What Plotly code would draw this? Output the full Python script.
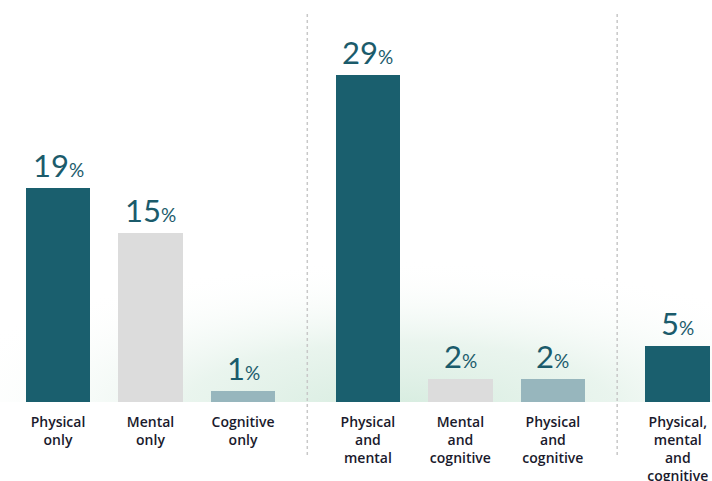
import base64
import plotly.graph_objects as go

# Share of respondents by type of condition
categories = [
    "Physical<br>only", "Mental<br>only", "Cognitive<br>only",
    "Physical<br>and<br>mental", "Mental<br>and<br>cognitive", "Physical<br>and<br>cognitive",
    "Physical,<br>mental<br>and<br>cognitive",
]
values = [19, 15, 1, 29, 2, 2, 5]
groups = [0, 0, 0, 1, 1, 1, 2]

DARK = "#1a5f6e"
GREY = "#dcdcdc"
PALE = "#97b6bd"
colors = [DARK, GREY, PALE, DARK, GREY, PALE, DARK]

GROUP_GAP = 0.35
xpos = [i + g * GROUP_GAP for i, g in enumerate(groups)]
YMAX = 35.65

# soft green glow, drawn as an SVG background image under the bars
glow_svg = """<svg xmlns='http://www.w3.org/2000/svg' width='712' height='402' viewBox='0 0 712 402'>
<defs><radialGradient id='g' cx='0.5' cy='0.5' r='0.5'>
<stop offset='0' stop-color='#d6ecdf' stop-opacity='1'/>
<stop offset='0.45' stop-color='#e2f1e8' stop-opacity='0.75'/>
<stop offset='1' stop-color='#ffffff' stop-opacity='0'/>
</radialGradient></defs>
<ellipse cx='400' cy='410' rx='480' ry='150' fill='url(#g)'/>
</svg>"""
glow_src = "data:image/svg+xml;base64," + base64.b64encode(glow_svg.encode()).decode()

fig = go.Figure()

fig.add_trace(go.Bar(
    x=xpos, y=values, width=0.70,
    marker=dict(color=colors, line=dict(width=0)),
    hoverinfo="skip", showlegend=False,
))

for x, v in zip(xpos, values):
    fig.add_annotation(
        x=x, y=v, xref="x", yref="y",
        text=f"{v}<span style='font-size:19px'>%</span>",
        showarrow=False, yanchor="bottom", yshift=2,
        font=dict(family="Lato", size=31, color="#1b5b6b"),
    )

# dotted separators between groups
for g in range(1, 3):
    left = max(x for x, gg in zip(xpos, groups) if gg == g - 1)
    right = min(x for x, gg in zip(xpos, groups) if gg == g)
    xm = (left + right) / 2 + 0.02
    fig.add_shape(
        type="line", xref="x", yref="paper", x0=xm, x1=xm, y0=-0.132, y1=0.97,
        line=dict(color="#c8c8c8", width=1.5, dash="dot"),
    )

fig.add_layout_image(
    source=glow_src, xref="paper", yref="paper", x=0, y=1,
    sizex=1, sizey=1, sizing="stretch", xanchor="left", yanchor="top",
    layer="below",
)

fig.update_xaxes(
    range=[-0.627, 7.07], tickvals=xpos, ticktext=categories,
    showgrid=False, zeroline=False, showline=False, automargin=False,
    ticks="outside", ticklen=7, tickcolor="rgba(0,0,0,0)",
    tickfont=dict(family="Open Sans", size=14, color="#1a1a2c", weight=600),
)
fig.update_yaxes(range=[0, YMAX], visible=False, showgrid=False, zeroline=False)

fig.update_layout(
    width=712, height=481,
    margin=dict(l=0, r=0, t=0, b=79),
    plot_bgcolor="rgba(0,0,0,0)", paper_bgcolor="white",
    bargap=0,
)

fig.write_html("out.html")
